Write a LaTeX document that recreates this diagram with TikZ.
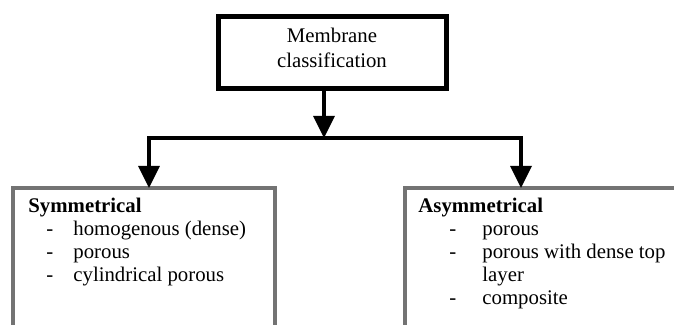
\documentclass[tikz,border=0pt]{standalone}
\usepackage{fontspec}
\setmainfont{Liberation Serif}
\usetikzlibrary{arrows.meta}

\tikzset{
  topbox/.style={draw, line width=2.5pt, minimum width=114pt, minimum height=36pt, inner sep=0pt, outer sep=0pt},
  classbox/.style={draw=black!55, line width=2pt, anchor=north west, minimum height=110pt, inner sep=0pt, outer sep=0pt},
  conn/.style={line width=1.75pt, -{Triangle[length=11pt, width=10.5pt]}},
  linetext/.style={anchor=base west, inner sep=0pt, font=\fontsize{10.4}{11.5}\selectfont},
}

\begin{document}
\begin{tikzpicture}[x=0.5pt, y=-0.5pt]

        \useasboundingbox (0,0) rectangle (674,325);
        \clip (0,0) rectangle (674,325);

        % Top Box: Membrane classification
        \node[topbox] (top) at (332,52.5) {};
        \node[align=center, inner sep=0pt, font=\fontsize{10.4}{12.5}\selectfont] (toptext) at (332,48) {Membrane\\classification};

        % Branch points
        \coordinate (split) at (324,138);
        \coordinate (barL) at (149,138);
        \coordinate (barR) at (521,138);

        % Lower Boxes
        \node[classbox, minimum width=131pt] (sym) at (13,188) {};
        \node[classbox, minimum width=200pt] (asym) at (405,188) {};

        % Connectors
        \draw[conn] (top.south -| split) -- (split);
        \draw[conn, {Triangle[length=11pt, width=10.5pt]}-{Triangle[length=11pt, width=10.5pt]}] (barL |- sym.north) -- (barL) -- (barR) -- (barR |- asym.north);

        % Left Box: Symmetrical
        \node[linetext] (symhead) at (28,212.7) {\textbf{Symmetrical}};
        \node[linetext] (sym1) at (46,235.7) {\makebox[13.5pt][l]{-}homogenous (dense)};
        \node[linetext] (sym2) at (46,258.7) {\makebox[13.5pt][l]{-}porous};
        \node[linetext] (sym3) at (46,281.7) {\makebox[13.5pt][l]{-}cylindrical porous};

        % Right Box: Asymmetrical
        \node[linetext] (asymhead) at (418,212.7) {\textbf{Asymmetrical}};
        \node[linetext] (asym1) at (449,235.7) {\makebox[16.5pt][l]{-}porous};
        \node[linetext] (asym2) at (449,258.7) {\makebox[16.5pt][l]{-}porous with dense top};
        \node[linetext] (asym2b) at (482,281.7) {layer};
        \node[linetext] (asym3) at (449,304.7) {\makebox[16.5pt][l]{-}composite};

\end{tikzpicture}
\end{document}
